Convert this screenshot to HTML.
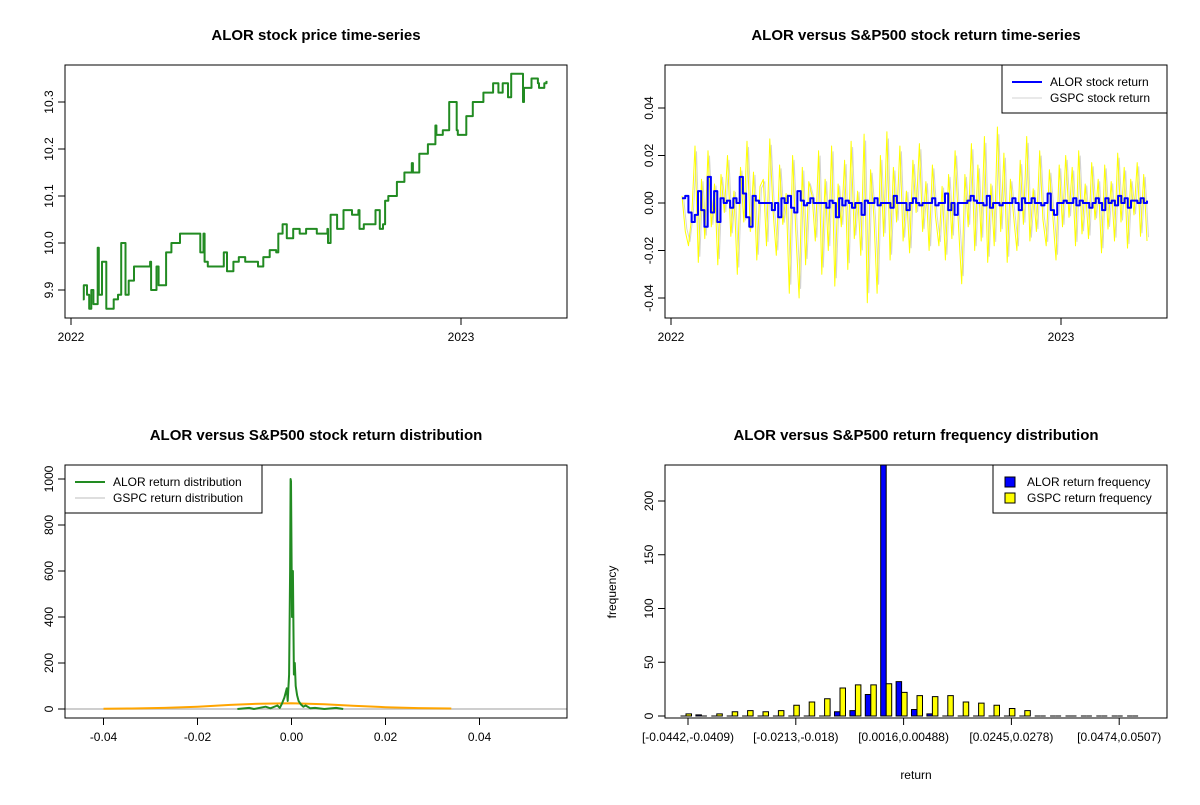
<!DOCTYPE html>
<html><head><meta charset="utf-8"><style>
body{margin:0;background:#fff;font-family:"Liberation Sans",Arial,sans-serif}
svg text{font-family:"Liberation Sans",Arial,sans-serif}
</style></head><body>
<svg id="s" width="1200" height="800" xmlns="http://www.w3.org/2000/svg">
<rect width="1200" height="800" fill="#fff"/>
</svg>
<script>
// ---------- data ----------
const priceDays=[11,12,15,17,19,21,25,26,29,31,33,40,44,47,51,54,59,68,74,75,80,82,88,89,94,102,116,121,124,125,128,142,143,146,150,152,157,163,174,175,180,186,192,194,198,202,208,214,220,230,240,240.5,243,249,255,263,269,270,274,283,285,289,292,294,297,303,305,311,312,319,320,325,326,333,334,341,342,348,354,361,362,369,370,375,376,383,386,392,395,400,404,409,412,420,423,424,429,431,437,438,443,445];
const priceVals=[9.88,9.91,9.89,9.86,9.90,9.87,9.99,9.89,9.96,9.96,9.86,9.88,9.89,10.0,9.89,9.92,9.95,9.95,9.96,9.90,9.95,9.91,9.91,9.98,10.0,10.02,10.02,9.98,10.02,9.96,9.95,9.95,9.98,9.94,9.94,9.96,9.97,9.96,9.96,9.95,9.97,9.985,9.98,10.02,10.04,10.01,10.03,10.02,10.03,10.02,10.03,10.0,10.06,10.03,10.07,10.06,10.07,10.03,10.04,10.04,10.07,10.03,10.04,10.09,10.10,10.10,10.13,10.13,10.15,10.17,10.15,10.15,10.19,10.19,10.21,10.25,10.23,10.24,10.30,10.24,10.23,10.23,10.27,10.27,10.30,10.30,10.32,10.32,10.34,10.32,10.34,10.31,10.36,10.36,10.30,10.33,10.33,10.35,10.34,10.33,10.34,10.345];
const priceTicks=[9.9,10.0,10.1,10.2,10.3];
const yearTicks=["2022","2023"];
const gspcRet=[0.3,-1.2,-1.8,-0.5,2.4,-2.5,1.0,-1.5,2.2,-1.0,0.8,-2.6,1.2,-0.4,2.0,-1.4,0.5,-3.0,1.5,-0.8,2.6,-1.2,1.3,-2.4,0.7,1.0,-1.8,2.7,-0.3,-2.2,1.6,-0.9,0.4,-3.8,2.0,-1.2,-4.0,1.5,-2.6,0.9,0.3,-1.6,2.2,-3.0,1.0,-2.0,2.4,-3.5,0.8,-1.0,1.8,-2.8,2.6,-1.5,0.5,-2.2,2.9,-4.2,1.4,-0.6,-3.8,2.0,-1.4,3.0,-2.4,1.5,-0.8,2.4,-1.6,0.5,-2.1,1.8,-0.4,2.5,-1.2,0.9,-2.0,1.6,-0.6,-1.8,0.7,-2.4,1.2,-1.5,2.2,-0.9,-3.4,1.2,-1.0,2.5,-2.0,1.6,-1.6,2.8,-2.5,0.8,-1.8,3.2,-1.2,2.1,-2.5,1.0,-0.6,-2.0,1.8,-0.9,2.8,-1.6,0.6,-1.2,2.2,-0.7,-1.8,1.4,-0.5,-2.4,1.6,-1.0,2.0,-0.6,1.5,-1.8,2.2,-1.3,0.8,-1.5,1.7,-0.7,1.0,-2.1,1.6,-1.1,0.9,-1.6,2.1,-0.8,1.5,-1.9,1.0,-0.5,1.7,-1.4,1.2,-1.6];
const alorRet=[0.2,0.3,-0.4,-0.8,-0.5,0.5,-0.3,-1.0,1.1,-0.4,0.5,-0.8,0.2,0,0.1,-0.2,0.2,0,1.1,0.4,-0.6,-1.0,0.3,0.1,0,0,0,0,-0.3,0,-0.6,0.2,0,0.3,-0.2,-0.4,0.5,0.1,-0.1,0,0.2,0,0,0,0,-0.2,0.1,0,-0.6,0.2,-0.1,0.1,0,-0.2,0,0,-0.5,0.1,0,0,0.2,-0.1,0,0,0,-0.2,0.3,0,0,0,-0.3,0,0.2,0,-0.1,0,0,0,0.2,-0.1,0,0,0.4,-0.3,0,-0.5,0,0,0,0.1,0.3,0.1,0,0,-0.1,0.3,-0.2,0,0,-0.1,0,0,0,0.2,0,-0.3,0.2,0,0,0.2,0,0,-0.1,0,0.4,-0.3,-0.5,0,0,0.1,0,0,0.2,-0.1,0.1,0,0,-0.2,0,0.2,0,-0.3,0.2,0,0.1,-0.1,0.3,0,0.2,-0.2,0.1,0.1,0,0.2,0,0.1];
const retTicks=[-0.04,-0.02,0.00,0.02,0.04];
const alorDensX=[-0.0115,-0.009,-0.008,-0.0055,-0.0045,-0.003,-0.0025,-0.002,-0.0015,-0.001,-0.0008,-0.0005,-0.0003,-0.0002,-0.0001,0.0001,0.0003,0.0005,0.0007,0.0009,0.0012,0.0015,0.002,0.0025,0.003,0.004,0.005,0.007,0.0095,0.011];
const alorDensY=[0,5,0,10,3,15,5,25,50,90,35,150,600,1000,990,400,600,150,200,100,60,35,20,10,15,3,5,0,5,0];
const gspcDensX=[-0.040,-0.034,-0.027,-0.020,-0.013,-0.007,0.000,0.007,0.013,0.020,0.027,0.034];
const gspcDensY=[1,2,5,10,18,23,25,21,14,8,4,2];
const densXTicks=[-0.04,-0.02,0.00,0.02,0.04];
const densYTicks=[0,200,400,600,800,1000];
const binLabels=["[-0.0442,-0.0409)","[-0.0213,-0.018)","[0.0016,0.00488)","[0.0245,0.0278)","[0.0474,0.0507)"];
const alorFreq=[0,1,0,0,0,0,0,0,0,0,4,5,20,260,32,6,2,0,0,0,0,0,0,0,0,0,0,0,0,0];
const gspcFreq=[2,0,2,4,5,4,5,10,13,16,26,29,29,30,22,19,18,19,13,12,10,7,5,0,0,0,0,0,0,0];
const freqTicks=[0,50,100,150,200];

// ---------- helpers ----------
const NS="http://www.w3.org/2000/svg", S=document.getElementById('s');
function el(tag,attrs,parent){const e=document.createElementNS(NS,tag);for(const k in attrs)e.setAttribute(k,attrs[k]);(parent||S).appendChild(e);return e;}
function txt(x,y,t,size,opts){opts=opts||{};const e=el('text',{x:x,y:y,'font-size':size,'text-anchor':opts.anchor||'middle',fill:'#000'});if(opts.bold)e.setAttribute('font-weight','bold');if(opts.rot)e.setAttribute('transform','rotate(-90 '+x+' '+y+')');e.textContent=t;return e;}
function lin(d0,d1,r0,r1){return v=>r0+(v-d0)/(d1-d0)*(r1-r0);}
function box(x0,y0,x1,y1,name){const r=el('rect',{x:x0,y:y0,width:x1-x0,height:y1-y0,fill:'none',stroke:'#000','stroke-width':1});}
function yAxis(x,ticks,sy,fmt,name){const g=el('g',{});
 el('line',{x1:x,x2:x,y1:sy(ticks[0]),y2:sy(ticks[ticks.length-1]),stroke:'#000'},g);
 ticks.forEach(t=>{el('line',{x1:x-7,x2:x,y1:sy(t),y2:sy(t),stroke:'#000'},g);const tt=txt(x-12,sy(t),fmt(t),12,{rot:true});g.appendChild(tt);});}
function xAxis(y,pos,labels,name){const g=el('g',{});
 el('line',{x1:pos[0],x2:pos[pos.length-1],y1:y,y2:y,stroke:'#000'},g);
 pos.forEach((p,i)=>{el('line',{x1:p,x2:p,y1:y,y2:y+7,stroke:'#000'},g);const tt=txt(p,y+23,labels[i],12);g.appendChild(tt);});}
function poly(xs,ys,color,w,name){const pts=xs.map((x,i)=>x.toFixed(1)+','+ys[i].toFixed(1)).join(' ');const p=el('polyline',{points:pts,fill:'none',stroke:color,'stroke-width':w,'stroke-linejoin':'round'});return p;}
function stepXY(xs,ys){const X=[],Y=[];xs.forEach((x,i)=>{if(i>0){X.push(x);Y.push(ys[i-1]);}X.push(x);Y.push(ys[i]);});return [X,Y];}

// ---------- panel 1 ----------
{const sx=lin(0,365,71,461), sy=lin(9.9,10.3,290,102);
 txt(316,40,"ALOR stock price time-series",15,{bold:true});
 box(65,65,567,318,'price-plot-box');
 yAxis(65,priceTicks,sy,v=>v.toFixed(1),'price-y-axis');
 xAxis(318,[sx(0),sx(365)],yearTicks,'price-x-axis');
 const st=stepXY(priceDays.map(sx),priceVals.map(sy));
 poly(st[0],st[1],'#228B22',2,'alor-price-line');}

// ---------- panel 2 ----------
{const n=gspcRet.length, sx=i=>682+i*(1147-682)/(n-1), sy=lin(0,0.04,203,108);
 txt(916,40,"ALOR versus S&P500 stock return time-series",15,{bold:true});
 const xs=gspcRet.map((v,i)=>sx(i));
 poly(xs.map(x=>x+1.5),gspcRet.map(v=>sy(v*0.009)),'#d3d3d3',1,'gspc-return-grey-line');
 poly(xs,gspcRet.map(v=>sy(v/100)),'#ffff00',1,'gspc-return-line');
 const bx=alorRet.map((v,i)=>682+i*(1147-682)/(alorRet.length-1));
 const st=stepXY(bx,alorRet.map(v=>sy(v/100)));
 poly(st[0],st[1],'#0000ff',2,'alor-return-line');
 box(665,65,1167,318,'return-plot-box');
 yAxis(665,retTicks,sy,v=>v.toFixed(2),'return-y-axis');
 xAxis(318,[671,1061],yearTicks,'return-x-axis');
 const lg=el('g',{});
 el('rect',{x:1002,y:65,width:165,height:48,fill:'#fff',stroke:'#000'},lg);
 el('line',{x1:1012,x2:1042,y1:82,y2:82,stroke:'#0000ff','stroke-width':2},lg);
 el('line',{x1:1012,x2:1042,y1:98,y2:98,stroke:'#d3d3d3','stroke-width':1},lg);
 lg.appendChild(txt(1050,86,"ALOR stock return",12,{anchor:'start'}));
 lg.appendChild(txt(1050,102,"GSPC stock return",12,{anchor:'start'}));}

// ---------- panel 3 ----------
{const sx=lin(0,0.02,291.5,385.5), sy=lin(0,1000,709,479);
 txt(316,440,"ALOR versus S&P500 stock return distribution",15,{bold:true});
 poly([65,567],[sy(0),sy(0)],'#bebebe',1.5,'gspc-density-grey-line');
 poly(gspcDensX.map(sx),gspcDensY.map(sy),'#ffa500',2,'gspc-density-line');
 poly(alorDensX.map(sx),alorDensY.map(sy),'#228B22',2,'alor-density-line');
 box(65,465,567,718,'distribution-plot-box');
 yAxis(65,densYTicks,sy,v=>String(v),'distribution-y-axis');
 xAxis(718,densXTicks.map(sx),densXTicks.map(v=>v.toFixed(2)),'distribution-x-axis');
 const lg=el('g',{});
 el('rect',{x:65,y:465,width:197,height:48,fill:'#fff',stroke:'#000'},lg);
 el('line',{x1:75,x2:105,y1:482,y2:482,stroke:'#228B22','stroke-width':2},lg);
 el('line',{x1:75,x2:105,y1:498,y2:498,stroke:'#bebebe','stroke-width':1},lg);
 lg.appendChild(txt(113,486,"ALOR return distribution",12,{anchor:'start'}));
 lg.appendChild(txt(113,502,"GSPC return distribution",12,{anchor:'start'}));}

// ---------- panel 4 ----------
{const sy=lin(0,200,716,501), gx=i=>680.5+i*15.4, bw=5.5;
 txt(916,440,"ALOR versus S&P500 return frequency distribution",15,{bold:true});
 el('clipPath',{id:'c4'});el('rect',{x:665,y:465,width:502,height:253},document.getElementById('c4'));
 const g=el('g',{'clip-path':'url(#c4)'});
 function bar(x,v,fill,name){const y0=sy(0),y1=sy(v);
  const p=el('path',{d:'M'+x+','+y0+'V'+y1+'H'+(x+bw)+'V'+y0+'Z',fill:fill,stroke:'#000','stroke-width':1},g);
  }
 alorFreq.forEach((v,i)=>bar(gx(i),v,'#0000ff','alor-freq-bar'));
 gspcFreq.forEach((v,i)=>bar(gx(i)+bw,v,'#ffff00','gspc-freq-bar'));
 box(665,465,1167,718,'frequency-plot-box');
 yAxis(665,freqTicks,sy,v=>String(v),'frequency-y-axis');
 const lp=[0,7,14,21,28].map(i=>gx(i)+bw+2);
 xAxis(718,lp,binLabels,'frequency-x-axis');
 txt(616,592,"frequency",12,{rot:true});
 txt(916,779,"return",12);
 const lg=el('g',{});
 el('rect',{x:993,y:465,width:174,height:48,fill:'#fff',stroke:'#000'},lg);
 el('rect',{x:1005,y:477,width:10,height:10,fill:'#0000ff',stroke:'#000'},lg);
 el('rect',{x:1005,y:493,width:10,height:10,fill:'#ffff00',stroke:'#000'},lg);
 lg.appendChild(txt(1027,486,"ALOR return frequency",12,{anchor:'start'}));
 lg.appendChild(txt(1027,502,"GSPC return frequency",12,{anchor:'start'}));}
</script>
</body></html>
